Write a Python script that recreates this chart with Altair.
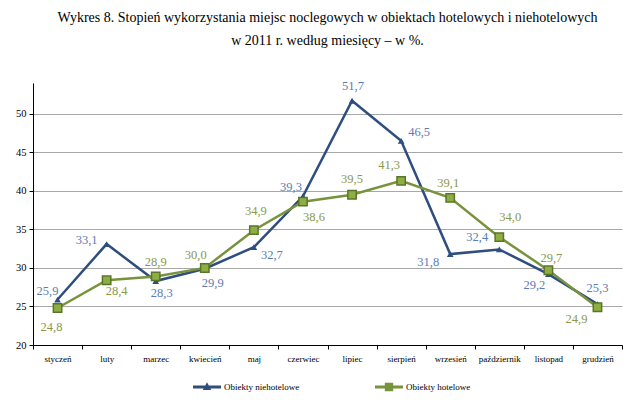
import altair as alt
import pandas as pd

months = ["styczeń", "luty", "marzec", "kwiecień", "maj", "czerwiec", "lipiec",
          "sierpień", "wrzesień", "październik", "listopad", "grudzień"]
niehotelowe = [25.9, 33.1, 28.3, 29.9, 32.7, 39.3, 51.7, 46.5, 31.8, 32.4, 29.2, 25.3]
hotelowe = [24.8, 28.4, 28.9, 30.0, 34.9, 38.6, 39.5, 41.3, 39.1, 34.0, 29.7, 24.9]
series_names = ["Obiekty niehotelowe", "Obiekty hotelowe"]
y_ticks = [20, 25, 30, 35, 40, 45, 50]

# label offsets (pixels) for data labels
off_nie = [(-10, -9), (-20, -4), (6, 12), (8, 14), (18, 8), (-12, -9), (1, -15),
           (18, -9), (-22, 8), (-22, -12), (-14, 11), (0, -16)]
off_hot = [(-6, 19), (10, 11), (0, -14), (-9, -13), (2, -19), (11, 15), (0, -16),
           (-12, -16), (-2, -15), (11, -20), (3, -12), (-21, 12)]

BLUE = "#2F4E80"
BLUE_TXT = "#5A7DB4"
GREEN = "#77933C"
GREEN_TXT = "#8A984C"
SERIF = "Liberation Serif"

rows = []
for i, m in enumerate(months):
    rows.append({"month": m, "idx": i, "series": series_names[0], "value": niehotelowe[i],
                 "label": f"{niehotelowe[i]:.1f}".replace(".", ",")})
    rows.append({"month": m, "idx": i, "series": series_names[1], "value": hotelowe[i],
                 "label": f"{hotelowe[i]:.1f}".replace(".", ",")})
df = pd.DataFrame(rows)

x_enc = alt.X("month:N", sort=months, bandPosition=0.5,
              scale=alt.Scale(type="band", paddingInner=0, paddingOuter=0),
              axis=alt.Axis(title=None, labelAngle=0, tickBand="extent", grid=False,
                            domainColor="black", tickColor="black", tickSize=4,
                            labelFont=SERIF, labelFontSize=9, labelColor="black",
                            labelPadding=5))
y_enc = alt.Y("value:Q", scale=alt.Scale(domain=[20, 54], nice=False, zero=False),
              axis=alt.Axis(title=None, values=y_ticks, grid=True, gridColor="#A8A8A8",
                            gridWidth=1, domainColor="black", tickColor="black", tickSize=4,
                            labelFont=SERIF, labelFontSize=10.5, labelColor="black",
                            labelPadding=3))

tri_path = "M-1,-0.1L1,-0.1L1,0.1L-1,0.1Z M0,-0.34L0.3,0.22L-0.3,0.22Z"
sq_path = "M-1,-0.1L1,-0.1L1,0.1L-1,0.1Z M-0.3,-0.3L0.3,-0.3L0.3,0.3L-0.3,0.3Z"

legend_kw = dict(orient="none", legendX=160, legendY=290, direction="horizontal", title=None,
                 symbolSize=784, symbolStrokeWidth=0, symbolOpacity=1, labelFont=SERIF,
                 labelFontSize=9, labelColor="black", columnPadding=75, labelOffset=3)

base = alt.Chart(df)

legend_layer = base.mark_point(filled=True, opacity=0, size=1).encode(
    x=x_enc, y=y_enc,
    color=alt.Color("series:N", scale=alt.Scale(domain=series_names, range=[BLUE, GREEN]),
                    legend=alt.Legend(**legend_kw)),
    shape=alt.Shape("series:N", scale=alt.Scale(domain=series_names, range=[tri_path, sq_path]),
                    legend=alt.Legend(**legend_kw)),
)

line_nie = base.transform_filter(alt.datum.series == series_names[0]).mark_line(
    strokeWidth=2.5, color=BLUE).encode(x=x_enc, y=y_enc)
pts_nie = base.transform_filter(alt.datum.series == series_names[0]).mark_point(
    shape="triangle-up", filled=True, size=45, color=BLUE, opacity=1).encode(x=x_enc, y=y_enc)
line_hot = base.transform_filter(alt.datum.series == series_names[1]).mark_line(
    strokeWidth=2.5, color=GREEN).encode(x=x_enc, y=y_enc)
pts_hot = base.transform_filter(alt.datum.series == series_names[1]).mark_point(
    shape="square", filled=True, size=70, fill="#8DAE42", stroke="#5A7529",
    strokeWidth=1.5, opacity=1).encode(x=x_enc, y=y_enc)

layers = [legend_layer, line_nie, pts_nie, line_hot, pts_hot]

for i, m in enumerate(months):
    dx, dy = off_nie[i]
    layers.append(base.transform_filter(
        (alt.datum.series == series_names[0]) & (alt.datum.idx == i)).mark_text(
        dx=dx, dy=dy, font=SERIF, fontSize=12.5, color=BLUE_TXT).encode(
        x=x_enc, y=y_enc, text="label:N"))
    dx, dy = off_hot[i]
    layers.append(base.transform_filter(
        (alt.datum.series == series_names[1]) & (alt.datum.idx == i)).mark_text(
        dx=dx, dy=dy, font=SERIF, fontSize=12.5, color=GREEN_TXT).encode(
        x=x_enc, y=y_enc, text="label:N"))

chart = alt.layer(*layers).properties(
    width=589, height=262,
    title=alt.TitleParams(
        text=["Wykres 8. Stopień wykorzystania miejsc noclegowych w obiektach hotelowych i niehotelowych",
              "w 2011 r. według miesięcy – w %."],
        font=SERIF, fontSize=14, fontWeight="normal", color="black",
        anchor="middle", lineHeight=23, offset=32),
    autosize=alt.AutoSizeParams(type="none"),
    padding={"left": 25, "top": 75, "right": 10, "bottom": 50},
).configure(background="white", font=SERIF).configure_view(strokeWidth=0).configure_text(
    font=SERIF).configure_axis(labelFont=SERIF).configure_legend(labelFont=SERIF)

chart.save("out.html", embed_options={"renderer": "svg", "actions": False})
